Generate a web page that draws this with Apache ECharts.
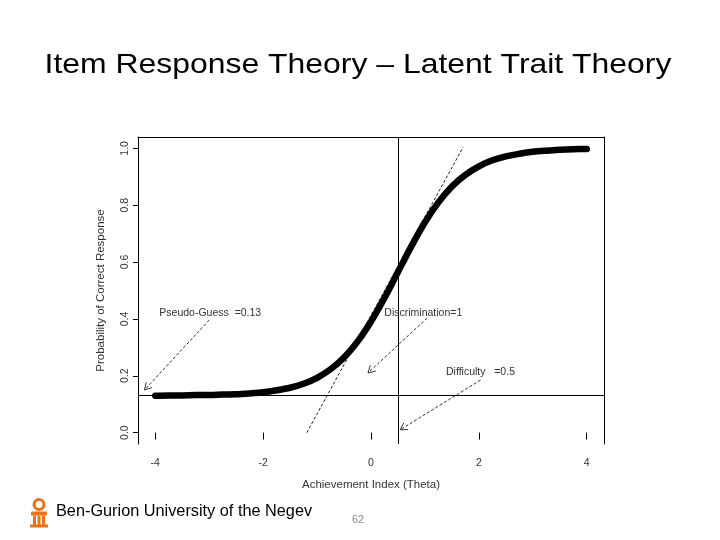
<!DOCTYPE html>
<html>
<head>
<meta charset="utf-8">
<script src="https://cdn.jsdelivr.net/npm/echarts@6/dist/echarts.min.js"></script>
<style>html,body{margin:0;padding:0;background:#fff;}#c{width:720px;height:540px;}</style>
</head>
<body>
<div id="c"></div>
<script>
// ---- data ----
const theta = [-4,-3.75,-3.5,-3.25,-3,-2.75,-2.5,-2.25,-2,-1.75,-1.5,-1.25,-1,-0.75,-0.5,-0.25,0,0.25,0.5,0.75,1,1.25,1.5,1.75,2,2.25,2.5,2.75,3,3.25,3.5,3.75,4];
const prob = [0.130,0.131,0.131,0.132,0.132,0.134,0.135,0.138,0.142,0.149,0.158,0.172,0.193,0.223,0.264,0.320,0.391,0.474,0.565,0.656,0.740,0.810,0.866,0.907,0.937,0.958,0.972,0.981,0.988,0.992,0.995,0.997,0.998];
const tangentX = [-1.19, 1.71];
const tangentY = [0, 1.005];
const guessLevel = 0.13;
const difficulty = 0.5;
const xTicks = [-4,-2,0,2,4];
const xTickLabels = ['-4','-2','0','2','4'];
const yTicks = [0,0.2,0.4,0.6,0.8,1.0];
const yTickLabels = ['0.0','0.2','0.4','0.6','0.8','1.0'];
const noteText = ['Pseudo-Guess  =0.13','Discrimination=1','Difficulty   =0.5'];
const notePosX = [-2.98, 0.97, 2.03];
const notePosY = [0.42, 0.42, 0.213];
const arrowFromX = [-3.0, 1.04, 2.03];
const arrowFromY = [0.396, 0.403, 0.185];
const arrowToX = [-4.2, -0.056, 0.54];
const arrowToY = [0.15, 0.21, 0.01];

const curveData = theta.map((t,i)=>[t,prob[i]]);
const tangentData = tangentX.map((t,i)=>[t,tangentY[i]]);
const noteData = noteText.map((s,i)=>[notePosX[i],notePosY[i],arrowFromX[i],arrowFromY[i],arrowToX[i],arrowToY[i],i]);

const F = 'Liberation Sans, Arial, sans-serif';
const chart = echarts.init(document.getElementById('c'));
chart.setOption({
  animation:false,
  backgroundColor:'#fff',
  grid:{left:138,right:116,top:137,bottom:96},
  xAxis:[{
    type:'value',min:-4.32,max:4.32,position:'bottom',
    axisLine:{show:false},
    splitLine:{show:false},
    axisTick:{show:true,length:7,customValues:xTicks,lineStyle:{color:'#000',width:1}},
    axisLabel:{customValues:xTicks,margin:14,fontFamily:F,fontSize:10.5,color:'#333',
      formatter:(v)=>{const i=xTicks.indexOf(v);return i>=0?xTickLabels[i]:'';}},
    name:'Achievement Index (Theta)',nameLocation:'middle',nameGap:35,
    nameTextStyle:{fontFamily:F,fontSize:11.5,color:'#333'}
  },{
    type:'value',min:-4.32,max:4.32,position:'top',
    axisLine:{show:true,onZero:false,lineStyle:{color:'#000',width:1}},
    axisTick:{show:false},axisLabel:{show:false},splitLine:{show:false}
  }],
  yAxis:[{
    type:'value',min:-0.04,max:1.04,position:'left',
    axisLine:{show:true,onZero:false,lineStyle:{color:'#000',width:1}},
    splitLine:{show:false},
    axisTick:{show:true,length:5,customValues:yTicks,lineStyle:{color:'#000',width:1}},
    axisLabel:{customValues:yTicks,rotate:90,margin:7,fontFamily:F,fontSize:10.5,color:'#333',
      formatter:(v)=>{let i=-1;yTicks.forEach((t,k)=>{if(Math.abs(t-v)<1e-6)i=k;});return i>=0?yTickLabels[i]:'';}},
    name:'Probability of Correct Response',nameLocation:'middle',nameGap:31,nameRotate:90,
    nameTextStyle:{fontFamily:F,fontSize:11.5,color:'#333'}
  },{
    type:'value',min:-0.04,max:1.04,position:'right',
    axisLine:{show:true,onZero:false,lineStyle:{color:'#000',width:1}},
    axisTick:{show:false},axisLabel:{show:false},splitLine:{show:false}
  }],
  series:[{
    type:'line',data:curveData,showSymbol:false,symbol:'none',smooth:0.3,
    lineStyle:{color:'#000',width:6.5,cap:'round',join:'round'},
    markLine:{silent:true,symbol:'none',label:{show:false},
      lineStyle:{color:'#000',width:1,type:'solid'},
      data:[{yAxis:guessLevel},{xAxis:difficulty}]},
    z:3
  },{
    type:'line',data:tangentData,showSymbol:false,symbol:'none',
    lineStyle:{color:'#222',width:1,type:[3,2]},z:2
  },{
    type:'custom',data:noteData,z:4,
    renderItem:(params,api)=>{
      const t=api.coord([api.value(0),api.value(1)]);
      const a=api.coord([api.value(2),api.value(3)]);
      const b=api.coord([api.value(4),api.value(5)]);
      const idx=api.value(6);
      const ang=Math.atan2(a[1]-b[1],a[0]-b[0]);
      const L=8, h=Math.PI/6;
      const h1=[b[0]+L*Math.cos(ang+h),b[1]+L*Math.sin(ang+h)];
      const h2=[b[0]+L*Math.cos(ang-h),b[1]+L*Math.sin(ang-h)];
      return {type:'group',children:[
        {type:'line',shape:{x1:a[0],y1:a[1],x2:b[0],y2:b[1]},style:{stroke:'#333',lineWidth:1,lineDash:[3,2]}},
        {type:'polyline',shape:{points:[h1,b,h2]},style:{stroke:'#333',lineWidth:1,fill:null}},
        {type:'text',x:t[0],y:t[1],style:{text:noteText[idx],fontFamily:F,fontSize:10.5,fill:'#333',align:'center',verticalAlign:'middle'}}
      ]};
    }
  }],
  graphic:[
    {type:'text',x:358,y:51,scaleX:1.14,style:{text:'Item Response Theory \u2013 Latent Trait Theory',
      fontFamily:F,fontSize:28,fill:'#000',align:'center',verticalAlign:'top'}},
    {type:'group',left:30,top:497,children:[
      {type:'circle',shape:{cx:10,cy:6,r:5},style:{fill:'none',stroke:'#E8731A',lineWidth:3}},
      {type:'rect',shape:{x:2,y:13,width:16,height:4,r:1},style:{fill:'#E8731A'}},
      {type:'rect',shape:{x:4,y:17,width:3,height:10},style:{fill:'#E8731A'}},
      {type:'rect',shape:{x:8.5,y:17,width:3,height:10},style:{fill:'#E8731A'}},
      {type:'rect',shape:{x:13,y:17,width:3,height:10},style:{fill:'#E8731A'}},
      {type:'rect',shape:{x:1,y:26,width:18,height:3},style:{fill:'#E8731A'}}
    ]},
    {type:'text',left:56,top:504,style:{text:'Ben-Gurion University of the Negev',fontFamily:F,fontSize:16.3,fill:'#000'}},
    {type:'text',left:352,top:514,style:{text:'62',fontFamily:F,fontSize:11,fill:'#888'}}
  ]
});
</script>
</body>
</html>
